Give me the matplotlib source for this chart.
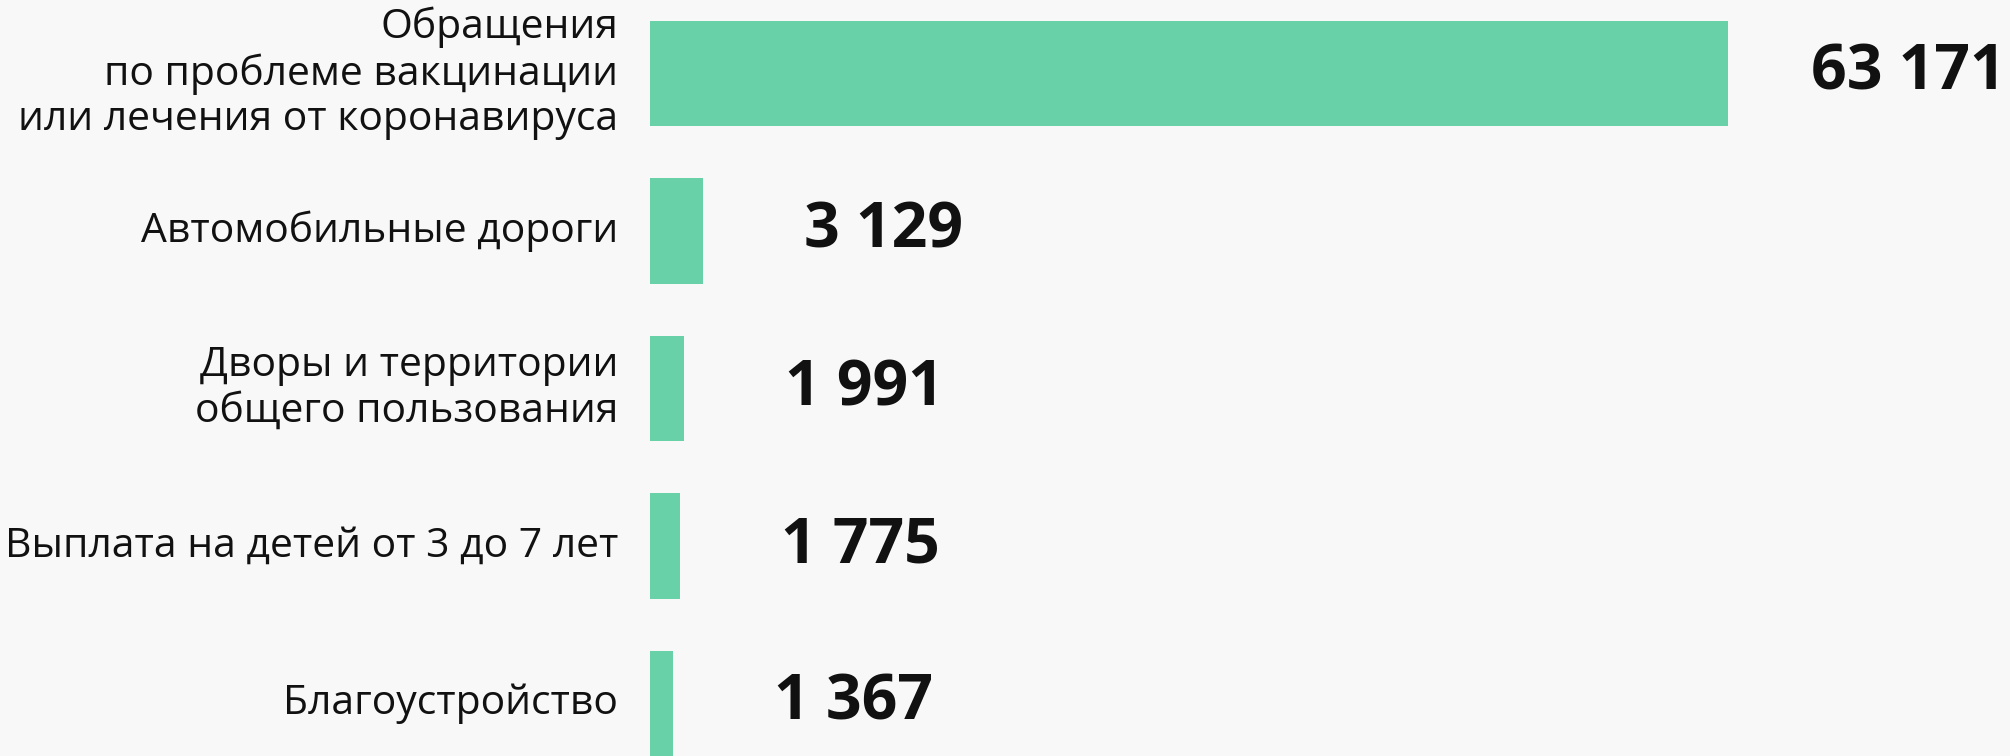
import matplotlib
matplotlib.use("Agg")
import matplotlib.pyplot as plt

categories = [
    "Обращения\nпо проблеме вакцинации\nили лечения от коронавируса",
    "Автомобильные дороги",
    "Дворы и территории\nобщего пользования",
    "Выплата на детей от 3 до 7 лет",
    "Благоустройство",
]
values = [63171, 3129, 1991, 1775, 1367]
value_labels = ["63 171", "3 129", "1 991", "1 775", "1 367"]

BG = "#f8f8f8"
BAR = "#69d1a7"
INK = "#111111"

W, H, DPI = 2010, 756, 100
fig = plt.figure(figsize=(W / DPI, H / DPI), dpi=DPI, facecolor=BG)

left_px, right_px = 650, 1728
ax = fig.add_axes([left_px / W, 0, (right_px - left_px) / W, 1])
ax.set_facecolor(BG)

ypos = list(range(len(values)))
ax.barh(ypos, values, height=0.673, color=BAR, edgecolor="none")

# one category slot = 157.5 px; first bar centred 73.5 px from the top
slot = 157.5
ax.set_xlim(0, max(values))
ax.set_ylim((H - 73.5) / slot, -73.5 / slot)

for s in ax.spines.values():
    s.set_visible(False)
ax.set_xticks([])
ax.set_yticks([])

for y, cat, v, lab in zip(ypos, categories, values, value_labels):
    ax.annotate(cat, xy=(0, y), xycoords="data",
                xytext=(-(left_px - 618) * 72 / DPI, 0), textcoords="offset points",
                ha="right", va="center", fontsize=29.4, family="Open Sans",
                color=INK, linespacing=1.165, annotation_clip=False)
    ax.annotate(lab, xy=(v, y), xycoords="data",
                xytext=(180 * 72 / DPI, 0), textcoords="offset points",
                ha="center", va="center", fontsize=45, family="Open Sans",
                fontweight="bold", color=INK, annotation_clip=False)

fig.savefig("out.png", dpi=DPI, facecolor=BG)
